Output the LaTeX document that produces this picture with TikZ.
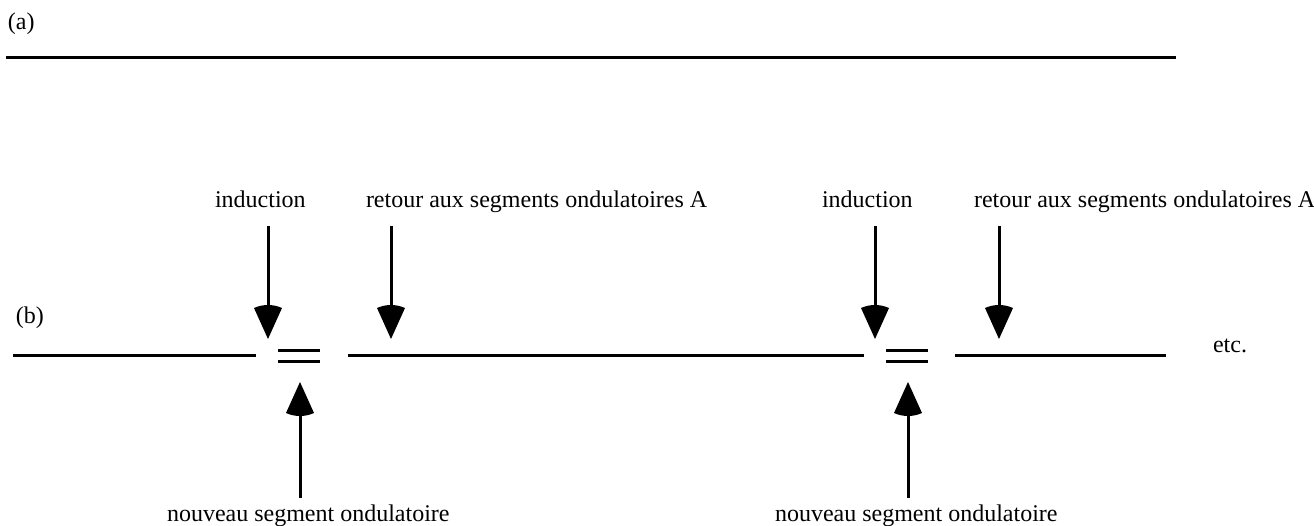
\documentclass[tikz,border=0pt]{standalone}
\usepackage{fontspec}
\setmainfont{Liberation Serif}
\makeatletter
\pgfdeclarearrow{
  name = Cone,
  setup code = {
    \pgfarrowssettipend{0pt}
    \pgfarrowssetlineend{-25pt}
    \pgfarrowssetvisualbackend{-31pt}
    \pgfarrowssetbackend{-34pt}
    \pgfarrowshullpoint{0pt}{0pt}
    \pgfarrowshullpoint{-31pt}{14pt}
    \pgfarrowshullpoint{-31pt}{-14pt}
  },
  drawing code = {
    \pgfpathmoveto{\pgfpointorigin}
    \pgfpathlineto{\pgfpoint{-31pt}{14pt}}
    \pgfpathcurveto{\pgfpoint{-35pt}{5.1pt}}{\pgfpoint{-35pt}{-5.1pt}}{\pgfpoint{-31pt}{-14pt}}
    \pgfpathclose
    \pgfusepathqfill
  }
}
\makeatother
\begin{document}
\begin{tikzpicture}[x=1pt,y=-1pt,
  lbl/.style={inner sep=0pt,outer sep=0pt,anchor=base west,font=\fontsize{24}{29}\selectfont},
  seg/.style={line width=3pt},
  arr/.style={line width=3pt,-Cone}]
\useasboundingbox (0,0) rectangle (1314,525);
% (a)
\node[lbl] (la) at (8,29) {(a)};
\coordinate (a1) at (6,57);
\coordinate (a2) at (1176,57);
\draw[seg] (a1) -- (a2);
% (b)
\node[lbl] (lb) at (16,323) {(b)};
\coordinate (b1) at (13,355);
\coordinate (b2) at (256,355);
\coordinate (b3) at (348,355);
\coordinate (b4) at (864,355);
\coordinate (b5) at (955,355);
\coordinate (b6) at (1166,355);
\draw[seg] (b1) -- (b2);
\draw[seg] (b3) -- (b4);
\draw[seg] (b5) -- (b6);
% double lines
\coordinate (d1a) at (278,350); \coordinate (d1b) at (320,350);
\coordinate (d1c) at (278,361); \coordinate (d1d) at (320,361);
\coordinate (d2a) at (886,350); \coordinate (d2b) at (928,350);
\coordinate (d2c) at (886,361); \coordinate (d2d) at (928,361);
\draw[seg] (d1a) -- (d1b);
\draw[seg] (d1c) -- (d1d);
\draw[seg] (d2a) -- (d2b);
\draw[seg] (d2c) -- (d2d);
\node[lbl] (etc) at (1213,352) {etc.};
% top labels
\node[lbl] (ind1) at (215,207) {induction};
\node[lbl] (ret1) at (366,207) {retour aux segments ondulatoires A};
\node[lbl] (ind2) at (822,207) {induction};
\node[lbl] (ret2) at (974,207) {retour aux segments ondulatoires A};
% bottom labels
\node[lbl] (nou1) at (167,521) {nouveau segment ondulatoire};
\node[lbl] (nou2) at (775,521) {nouveau segment ondulatoire};
% arrows
\coordinate (i1s) at (268,226); \coordinate (i1t) at (268,339);
\coordinate (r1s) at (391,226); \coordinate (r1t) at (391,339);
\coordinate (i2s) at (875,226); \coordinate (i2t) at (875,339);
\coordinate (r2s) at (999,226); \coordinate (r2t) at (999,339);
\coordinate (n1s) at (300,498); \coordinate (n1t) at (300,382);
\coordinate (n2s) at (908,498); \coordinate (n2t) at (908,382);
\draw[arr] (i1s) -- (i1t);
\draw[arr] (r1s) -- (r1t);
\draw[arr] (i2s) -- (i2t);
\draw[arr] (r2s) -- (r2t);
\draw[arr] (n1s) -- (n1t);
\draw[arr] (n2s) -- (n2t);
\end{tikzpicture}
\end{document}
